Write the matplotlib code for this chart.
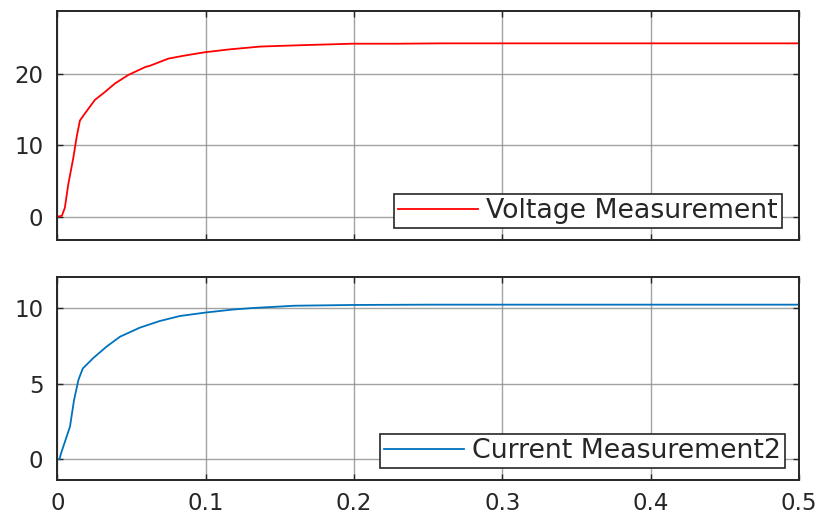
import numpy as np
import matplotlib
matplotlib.use('Agg')
import matplotlib.pyplot as plt

# scope traces (time in s)
t_voltage = [0.0, 0.0006, 0.003, 0.005, 0.0074, 0.0107, 0.013, 0.0152, 0.0186, 0.0253,
             0.032, 0.0388, 0.0478, 0.059, 0.0624, 0.0748, 0.0849, 0.0995, 0.116,
             0.137, 0.166, 0.199, 0.23, 0.26, 0.3, 0.35, 0.4, 0.45, 0.5]
voltage = [0.0, 0.0, 0.1, 1.2, 4.6, 8.2, 11.2, 13.5, 14.5, 16.4,
           17.5, 18.7, 19.9, 21.0, 21.2, 22.2, 22.6, 23.1, 23.5,
           23.9, 24.1, 24.3, 24.3, 24.35, 24.35, 24.35, 24.35, 24.35, 24.35]

t_current = [0.0, 0.0014, 0.0025, 0.0085, 0.0112, 0.0142, 0.0171, 0.0243, 0.0332,
             0.0422, 0.0556, 0.0691, 0.0826, 0.1, 0.1186, 0.132, 0.16, 0.2,
             0.25, 0.3, 0.35, 0.4, 0.45, 0.5]
current = [0.0, 0.0, 0.4, 2.16, 3.9, 5.25, 6.0, 6.7, 7.45,
           8.1, 8.7, 9.14, 9.47, 9.7, 9.9, 10.0, 10.15, 10.2,
           10.22, 10.22, 10.22, 10.22, 10.22, 10.22]

x_ticks = [0, 0.1, 0.2, 0.3, 0.4, 0.5]
v_ticks = [0, 10, 20]
i_ticks = [0, 5, 10]

fig = plt.figure(figsize=(8.21, 5.18), dpi=100)
ax1 = fig.add_axes([0.0699, 0.5367, 0.9033, 0.4421])
ax2 = fig.add_axes([0.0699, 0.0734, 0.9033, 0.3919])

def style(ax):
    ax.set_xlim(0, 0.5)
    ax.set_xticks(x_ticks)
    ax.grid(True, color='#8c8c8c', lw=1.0, alpha=0.8)
    ax.tick_params(direction='in', top=True, right=True, length=4,
                   width=1.0, labelsize=16.5, colors='#262626')
    ax.tick_params(axis='x', pad=8.5)
    ax.tick_params(axis='y', pad=10)
    for s in ax.spines.values():
        s.set_linewidth(1.4)
        s.set_color('#262626')

ax1.plot(t_voltage, voltage, color='#ff0000', lw=1.3, label='Voltage Measurement')
ax1.set_ylim(-3.3, 28.9)
ax1.set_yticks(v_ticks)
style(ax1)
ax1.tick_params(labelbottom=False)

ax2.plot(t_current, current, color='#0072bd', lw=1.3, label='Current Measurement2')
ax2.set_ylim(-1.37, 12.05)
ax2.set_yticks(i_ticks)
style(ax2)
ax2.set_xticklabels(['0', '0.1', '0.2', '0.3', '0.4', '0.5'])

for ax, anchor in ((ax1, (0.9767, 0.051)), (ax2, (0.981, 0.0576))):
    leg = ax.legend(loc='lower right', bbox_to_anchor=anchor, borderaxespad=0,
                    fancybox=False, framealpha=1, edgecolor='#262626',
                    fontsize=19.3, handlelength=3.0, handletextpad=0.3,
                    borderpad=0.15)
    leg.get_frame().set_linewidth(1.2)
    for txt in leg.get_texts():
        txt.set_color('#262626')

fig.savefig('out.png', dpi=100)
